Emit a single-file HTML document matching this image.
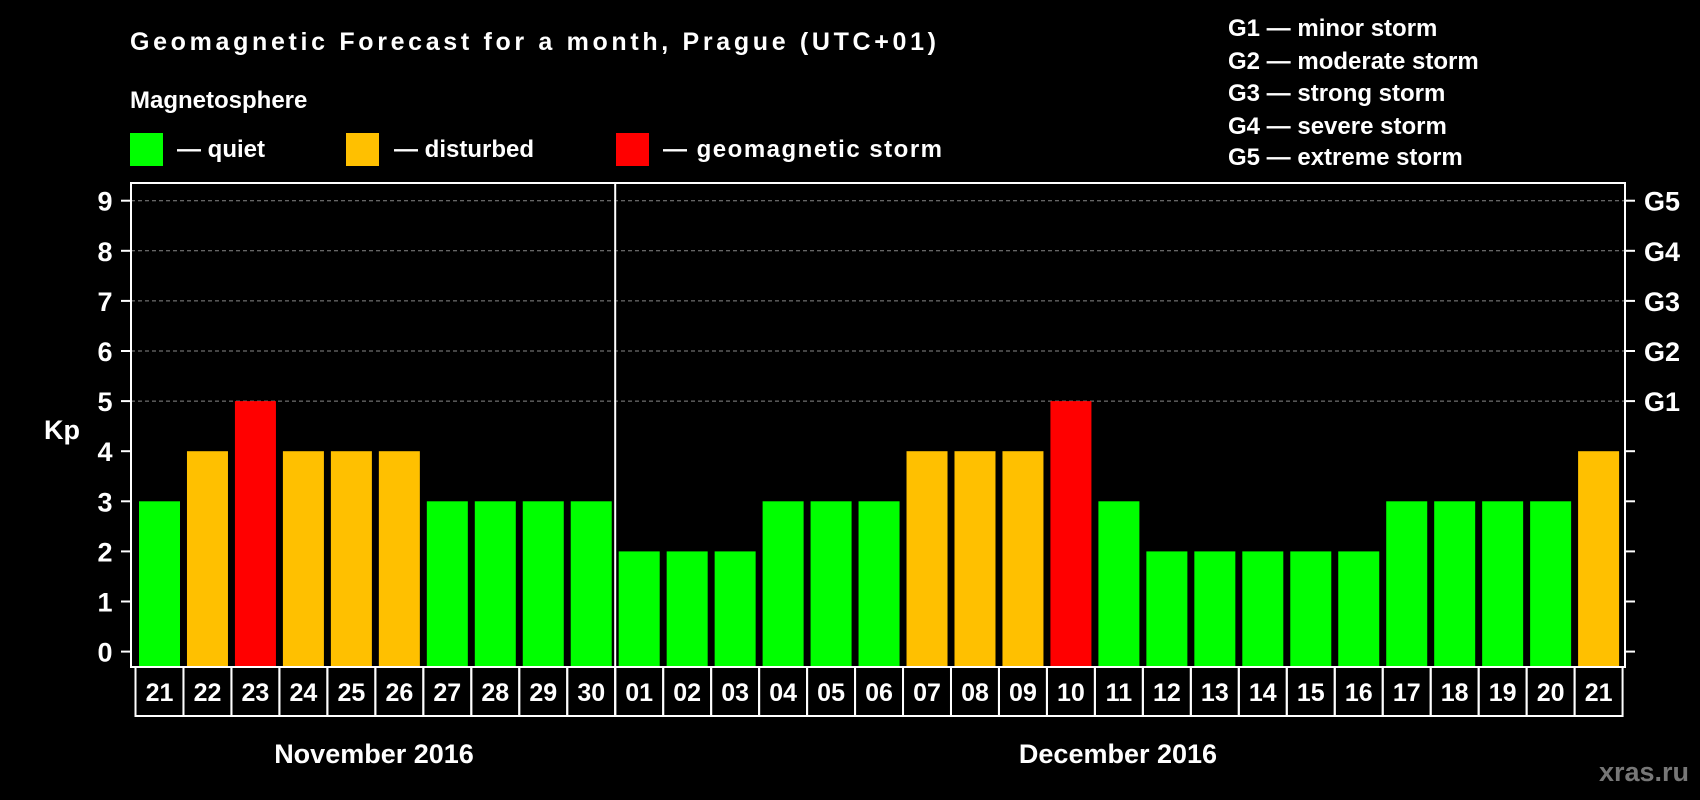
<!DOCTYPE html>
<html><head><meta charset="utf-8"><style>
html,body{margin:0;padding:0;background:#000;}
svg{display:block;font-family:"Liberation Sans",Arial,sans-serif;font-weight:bold;}
</style></head><body>
<svg id="chart" width="1700" height="800" viewBox="0 0 1700 800">
<rect width="1700" height="800" fill="#000"/>
<text x="130" y="50" fill="#fff" font-size="25" textLength="806">Geomagnetic Forecast for a month, Prague (UTC+01)</text>
<text x="130" y="108" fill="#fff" font-size="24">Magnetosphere</text>
<rect x="130" y="133" width="33" height="33" fill="#00ff00"/>
<text x="177" y="157" fill="#fff" font-size="24">— quiet</text>
<rect x="346" y="133" width="33" height="33" fill="#ffc000"/>
<text x="394" y="157" fill="#fff" font-size="24">— disturbed</text>
<rect x="616" y="133" width="33" height="33" fill="#ff0000"/>
<text x="663" y="157" fill="#fff" font-size="24" textLength="279">— geomagnetic storm</text>
<g fill="#fff" font-size="24">
<text x="1228" y="36">G1 — minor storm</text>
<text x="1228" y="69">G2 — moderate storm</text>
<text x="1228" y="101">G3 — strong storm</text>
<text x="1228" y="134">G4 — severe storm</text>
<text x="1228" y="165">G5 — extreme storm</text>
</g>
<g id="plot"></g>
<text x="62" y="439" fill="#fff" font-size="27" text-anchor="middle">Kp</text>
<text x="374" y="763" fill="#fff" font-size="27" text-anchor="middle">November 2016</text>
<text x="1118" y="763" fill="#fff" font-size="27" text-anchor="middle">December 2016</text>
<text x="1689" y="781" fill="#777" font-size="27" text-anchor="end">xras.ru</text>
</svg>
<script>
const days = ["21","22","23","24","25","26","27","28","29","30","01","02","03","04","05","06","07","08","09","10","11","12","13","14","15","16","17","18","19","20","21"];
const kp = [3,4,5,4,4,4,3,3,3,3,2,2,2,3,3,3,4,4,4,5,3,2,2,2,2,2,3,3,3,3,4];
const yTicks = [0,1,2,3,4,5,6,7,8,9];
const gLabels = ["","","","","","G1","G2","G3","G4","G5"];
const NS="http://www.w3.org/2000/svg";
const g=document.getElementById('plot');
const L=131,R=1625,T=183,B=667,y0=651.6,unit=50.1,x0=139,step=47.97,bw=41;
const y=v=>y0-v*unit;
const x=i=>x0+i*step;
function mk(tag,attrs){const e=document.createElementNS(NS,tag);for(const k in attrs)e.setAttribute(k,attrs[k]);g.appendChild(e);return e;}
yTicks.forEach((v,i)=>{
  if(v>=5){const ln=mk('line',{x1:L,x2:R,y1:y(v),y2:y(v),stroke:'#888','stroke-width':1,'stroke-dasharray':'4,3'});
  
  }
  const t1=mk('line',{x1:L-10,x2:L,y1:y(v),y2:y(v),stroke:'#fff','stroke-width':2});
  
  
  const t2=mk('line',{x1:R,x2:R+10,y1:y(v),y2:y(v),stroke:'#fff','stroke-width':2});
  
  
  const tl=mk('text',{x:105,y:y(v)+10,fill:'#fff','font-size':27,'text-anchor':'middle'});tl.textContent=v;
  
  
  if(gLabels[i]){const gl=mk('text',{x:1662,y:y(v)+10,fill:'#fff','font-size':27,'text-anchor':'middle'});gl.textContent=gLabels[i];
  
  }
});
kp.forEach((v,i)=>{
  const c=v>=5?'#ff0000':(v>=4?'#ffc000':'#00ff00');
  const b=mk('rect',{x:x(i),y:y(v),width:bw,height:y(0)-y(v)+15,fill:c});
  
  
  const cell=mk('rect',{x:x(i)-3.5,y:B,width:step,height:49,fill:'none',stroke:'#fff','stroke-width':2});
  
  
  const tx=mk('text',{x:x(i)+bw/2,y:B+34,fill:'#fff','font-size':25,'text-anchor':'middle'});tx.textContent=days[i];
  
  
});
const fr=mk('rect',{x:L,y:T,width:R-L,height:B-T,fill:'none',stroke:'#fff','stroke-width':2});


const mi=days.indexOf("01");
const dv=mk('line',{x1:x(mi)-3.5,x2:x(mi)-3.5,y1:T,y2:B+49,stroke:'#fff','stroke-width':2});


</script>
</body></html>
